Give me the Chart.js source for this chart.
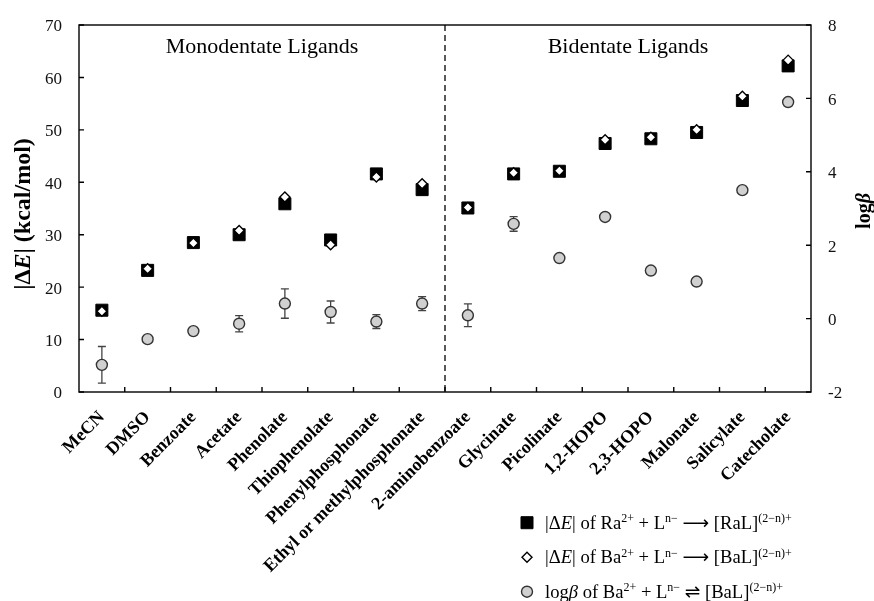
<!DOCTYPE html>
<html><head><meta charset="utf-8">
<script src="https://cdn.jsdelivr.net/npm/chart.js@4.4.1/dist/chart.umd.min.js"></script>
<style>html,body{margin:0;padding:0;background:#fff}#wrap{width:874px;height:601px;position:relative}</style>
</head><body><div id="wrap"><canvas id="c" width="874" height="601"></canvas></div>
<script>
const categories = ['MeCN','DMSO','Benzoate','Acetate','Phenolate','Thiophenolate','Phenylphosphonate','Ethyl or methylphosphonate','2-aminobenzoate','Glycinate','Picolinate','1,2-HOPO','2,3-HOPO','Malonate','Salicylate','Catecholate'];
const raDeltaE  = [15.6,23.2,28.5,30.0,35.9,29.0,41.6,38.6,35.1,41.6,42.1,47.4,48.3,49.5,55.6,62.2];
const baDeltaE  = [15.4,23.5,28.4,30.8,37.2,28.1,41.0,39.7,35.2,41.8,42.2,48.1,48.6,50.0,56.4,63.3];
const baLogBeta = [-1.26,-0.56,-0.34,-0.14,0.41,0.18,-0.08,0.41,0.09,2.58,1.65,2.77,1.31,1.01,3.50,5.90];
const logBetaErr = [0.50,0,0,0.22,0.40,0.30,0.19,0.19,0.31,0.20,0,0,0,0,0,0];
const groupLabels = ['Monodentate Ligands','Bidentate Ligands'];
const groupSplitIndex = 8;
const leftRange = {min:0, max:70, step:10};
const rightRange = {min:-2, max:8, step:2};

const FONT = "'Liberation Serif','Times New Roman',serif";
const SYM = "'DejaVu Sans',sans-serif";
function fontOf(s,size){ return (s.i?'italic ':'')+(s.b?'bold ':'')+(s.sup?Math.round(size*0.66):size)+'px '+(s.f||FONT); }
function drawRich(ctx, segs, x, y, size, align){
  ctx.save();
  ctx.textBaseline='alphabetic'; ctx.textAlign='left';
  const w = segs.map(s=>{ctx.font=fontOf(s,size);return ctx.measureText(s.t).width;});
  const total = w.reduce((a,b)=>a+b,0);
  let cx = align==='center' ? x-total/2 : x;
  segs.forEach((s,k)=>{ctx.font=fontOf(s,size);ctx.fillText(s.t,cx,y-(s.sup?size*0.36:0)+(s.dy||0));cx+=w[k];});
  ctx.restore();
}

const decor = {
  id:'decor',
  beforeDatasetsDraw(chart){
    const ctx=chart.ctx, a=chart.chartArea, xs=chart.scales.x, yl=chart.scales.y, yr=chart.scales.y2;
    ctx.save();
    ctx.strokeStyle='#000'; ctx.lineWidth=1.4;
    ctx.strokeRect(a.left,a.top,a.right-a.left,a.bottom-a.top);
    ctx.beginPath();
    yl.ticks.forEach((t,i)=>{const y=yl.getPixelForTick(i);ctx.moveTo(a.left,y);ctx.lineTo(a.left+5,y);});
    yr.ticks.forEach((t,i)=>{const y=yr.getPixelForTick(i);ctx.moveTo(a.right-5,y);ctx.lineTo(a.right,y);});
    const half=(xs.getPixelForValue(1)-xs.getPixelForValue(0))/2;
    for(let i=0;i<categories.length-1;i++){const x=xs.getPixelForValue(i)+half;ctx.moveTo(x,a.bottom);ctx.lineTo(x,a.bottom-5);}
    ctx.stroke();
    const dx=xs.getPixelForValue(groupSplitIndex-1)+half;
    ctx.setLineDash([6,4]); ctx.lineWidth=1.3;
    ctx.beginPath(); ctx.moveTo(dx,a.top); ctx.lineTo(dx,a.bottom); ctx.stroke();
    ctx.setLineDash([]);
    ctx.fillStyle='#000'; ctx.font='22px '+FONT; ctx.textAlign='center'; ctx.textBaseline='middle';
    ctx.fillText(groupLabels[0],(a.left+dx)/2,47);
    ctx.fillText(groupLabels[1],(dx+a.right)/2,47);
    ctx.strokeStyle='#444'; ctx.lineWidth=1.3;
    ctx.beginPath();
    baLogBeta.forEach((v,i)=>{
      const e=logBetaErr[i]; if(!e) return;
      const x=xs.getPixelForValue(i), y1=yr.getPixelForValue(v+e), y2=yr.getPixelForValue(v-e);
      ctx.moveTo(x,y1);ctx.lineTo(x,y2);
      ctx.moveTo(x-4,y1);ctx.lineTo(x+4,y1);
      ctx.moveTo(x-4,y2);ctx.lineTo(x+4,y2);
    });
    ctx.stroke();
    ctx.restore();
  },
  afterDraw(chart){
    const ctx=chart.ctx;
    ctx.save(); ctx.fillStyle='#000';
    ctx.save(); ctx.translate(22,214); ctx.rotate(-Math.PI/2);
    drawRich(ctx,[{t:'|Δ',b:1},{t:'E',b:1,i:1},{t:'| (kcal/mol)',b:1}],0,24*0.33,24,'center');
    ctx.restore();
    ctx.save(); ctx.translate(863,211); ctx.rotate(-Math.PI/2);
    drawRich(ctx,[{t:'log',b:1},{t:'β',b:1,i:1}],0,20*0.33,20,'center');
    ctx.restore();
    const H=Chart.helpers;
    const LS=18.6;
    const rows=[
      {y:522.7, st:{pointStyle:'rect',radius:8.5,borderWidth:1}, fill:'#000', stroke:'#000',
       segs:[{t:'|Δ'},{t:'E',i:1},{t:'| of Ra'},{t:'2+',sup:1},{t:' + L'},{t:'n−',sup:1},{t:' '},{t:'⟶',f:SYM},{t:' [RaL]'},{t:'(2−n)+',sup:1}]},
      {y:557.3, st:{pointStyle:'rectRot',radius:5,borderWidth:1.4}, fill:'#fff', stroke:'#000',
       segs:[{t:'|Δ'},{t:'E',i:1},{t:'| of Ba'},{t:'2+',sup:1},{t:' + L'},{t:'n−',sup:1},{t:' '},{t:'⟶',f:SYM},{t:' [BaL]'},{t:'(2−n)+',sup:1}]},
      {y:591.7, st:{pointStyle:'circle',radius:5.5,borderWidth:1.4}, fill:'#d0d0d0', stroke:'#333',
       segs:[{t:'log'},{t:'β',i:1},{t:' of Ba'},{t:'2+',sup:1},{t:' + L'},{t:'n−',sup:1},{t:' '},{t:'⇌',f:SYM},{t:' [BaL]'},{t:'(2−n)+',sup:1}]}
    ];
    rows.forEach(r=>{
      ctx.fillStyle=r.fill; ctx.strokeStyle=r.stroke; ctx.lineWidth=r.st.borderWidth;
      H.drawPoint(ctx,r.st,527,r.y);
      ctx.fillStyle='#000';
      drawRich(ctx,r.segs,545,r.y+LS*0.33,LS,'left');
    });
    ctx.restore();
  }
};

new Chart(document.getElementById('c'),{
  type:'line',
  data:{labels:categories,datasets:[
    {label:'|ΔE| of Ba', data:baDeltaE, yAxisID:'y', showLine:false, pointStyle:'rectRot', pointRadius:5, pointHoverRadius:5,
     backgroundColor:'#fff', borderColor:'#000', pointBorderWidth:1.4, order:1},
    {label:'|ΔE| of Ra', data:raDeltaE, yAxisID:'y', showLine:false, pointStyle:'rect', pointRadius:8.5, pointHoverRadius:8.5,
     backgroundColor:'#000', borderColor:'#000', pointBorderWidth:1, order:2},
    {label:'logβ of Ba', data:baLogBeta, yAxisID:'y2', showLine:false, pointStyle:'circle', pointRadius:5.5, pointHoverRadius:5.5,
     backgroundColor:'#d0d0d0', borderColor:'#333', pointBorderWidth:1.4, order:3}
  ]},
  options:{
    responsive:false, animation:false, devicePixelRatio:1,
    layout:{padding:{top:25,left:0,right:0,bottom:0}},
    plugins:{legend:{display:false},tooltip:{enabled:false}},
    scales:{
      x:{type:'category', offset:true, grid:{display:false}, border:{display:false},
         ticks:{autoSkip:false, minRotation:45, maxRotation:45, padding:7, color:'#000', font:{family:FONT,size:18,weight:'bold'}},
         afterFit(s){s.height=601-392;}},
      y:{position:'left', min:leftRange.min, max:leftRange.max, grid:{display:false}, border:{display:false},
         ticks:{stepSize:leftRange.step, padding:9, labelOffset:2, color:'#111', font:{family:FONT,size:17}},
         afterFit(s){s.width=79;}},
      y2:{position:'right', min:rightRange.min, max:rightRange.max, grid:{display:false}, border:{display:false},
         ticks:{stepSize:rightRange.step, padding:9, labelOffset:2, color:'#111', font:{family:FONT,size:17}},
         afterFit(s){s.width=63;}}
    }
  },
  plugins:[decor]
});
</script></body></html>
